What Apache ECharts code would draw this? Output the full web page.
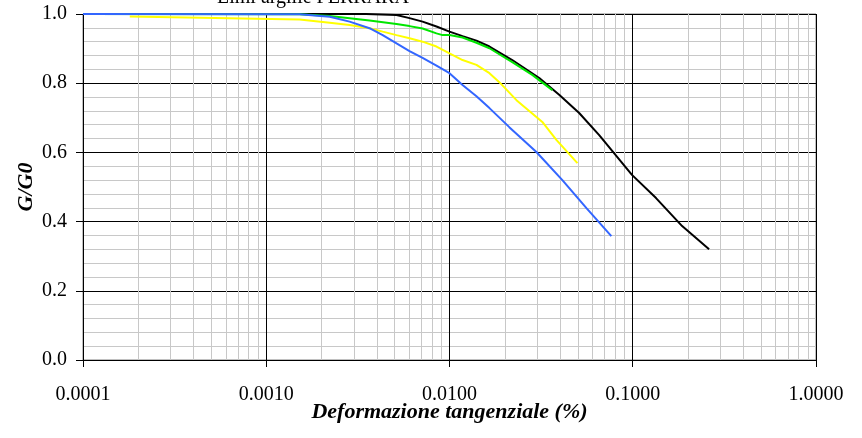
<!DOCTYPE html>
<html>
<head>
<meta charset="utf-8">
<script src="https://cdn.jsdelivr.net/npm/echarts@6/dist/echarts.min.js"></script>
<style>
  html, body { margin: 0; padding: 0; background: #fff; }
  #chart { width: 862px; height: 438px; }
</style>
</head>
<body>
<div id="chart"></div>
<script>
// Shear modulus decay curves G/G0 vs shear strain (%)
const titleText = 'Limi argille FERRARA';
const xAxisName = 'Deformazione tangenziale (%)';
const yAxisName = 'G/G0';

const blackStrain = [0.0001, 0.0035, 0.00514, 0.00605, 0.00713, 0.00849, 0.0100, 0.01178, 0.01403, 0.01652, 0.0220, 0.0309, 0.0398, 0.0510, 0.0656, 0.0990, 0.1340, 0.1860, 0.2610];
const blackRatio  = [1.000, 1.000, 0.997, 0.988, 0.978, 0.964, 0.949, 0.936, 0.923, 0.906, 0.867, 0.815, 0.766, 0.714, 0.650, 0.535, 0.468, 0.387, 0.320];

const greenStrain = [0.0001, 0.00152, 0.00222, 0.00285, 0.00366, 0.00514, 0.00605, 0.00713, 0.00849, 0.00917, 0.0100, 0.01178, 0.01403, 0.01652, 0.0220, 0.0283, 0.0364];
const greenRatio  = [1.000, 0.999, 0.994, 0.988, 0.981, 0.971, 0.965, 0.958, 0.944, 0.939, 0.939, 0.932, 0.917, 0.901, 0.861, 0.824, 0.780];

const yellowStrain = [0.00018, 0.00152, 0.00222, 0.00285, 0.00366, 0.00432, 0.00514, 0.00605, 0.00713, 0.00849, 0.0100, 0.01178, 0.01403, 0.01652, 0.0187, 0.0232, 0.0321, 0.0383, 0.0499];
const yellowRatio  = [0.993, 0.984, 0.975, 0.968, 0.959, 0.949, 0.939, 0.930, 0.920, 0.906, 0.886, 0.867, 0.853, 0.829, 0.803, 0.751, 0.688, 0.636, 0.569];

const blueStrain = [0.0001, 0.00152, 0.00222, 0.00285, 0.00366, 0.00432, 0.00514, 0.00605, 0.00713, 0.00849, 0.0100, 0.01178, 0.01403, 0.01652, 0.0212, 0.0298, 0.0413, 0.0559, 0.0764];
const blueRatio  = [1.000, 0.999, 0.992, 0.978, 0.959, 0.939, 0.915, 0.893, 0.873, 0.851, 0.829, 0.795, 0.762, 0.728, 0.673, 0.601, 0.520, 0.439, 0.358];

const xMin = 0.0001, xMax = 1;
const yMin = 0, yMax = 1;

const pairs = (xs, ys) => xs.map((x, i) => [x, ys[i]]);

// minor vertical grid positions: 2..9 within each decade
const minorX = [];
for (let d = xMin; d < xMax * 0.999; d *= 10) {
  for (let k = 2; k <= 9; k++) minorX.push([d * k, yMin]);
}

const serif = '"Liberation Serif", "DejaVu Serif", serif';

const lineSeries = (data, color) => ({
  type: 'line',
  data,
  showSymbol: false,
  symbol: 'none',
  smooth: false,
  lineStyle: { color, width: 2 },
  z: 3
});

const chart = echarts.init(document.getElementById('chart'));
chart.setOption({
  animation: false,
  backgroundColor: '#fff',
  title: {
    text: titleText,
    left: 217,
    top: -12,
    padding: 0,
    textStyle: { fontFamily: serif, fontSize: 20, fontWeight: 'normal', color: '#000' }
  },
  grid: {
    left: 83, right: 46, top: 14, bottom: 78,
    show: true, borderColor: '#808080', borderWidth: 1, backgroundColor: '#fff'
  },
  xAxis: {
    type: 'log',
    logBase: 10,
    min: xMin,
    max: xMax,
    name: xAxisName,
    nameLocation: 'middle',
    nameGap: 41,
    nameMoveOverlap: false,
    nameTextStyle: { fontFamily: serif, fontSize: 22, fontWeight: 'bold', fontStyle: 'italic', color: '#000' },
    axisLine: { show: true, onZero: false, lineStyle: { color: '#000', width: 1 } },
    axisTick: { show: true, inside: false, length: 7, lineStyle: { color: '#000' } },
    axisLabel: {
      margin: 25,
      fontFamily: serif, fontSize: 20, color: '#000',
      formatter: v => Number(v).toFixed(4)
    },
    splitLine: { show: true, lineStyle: { color: '#000', width: 1 } }
  },
  yAxis: {
    type: 'value',
    min: yMin,
    max: yMax,
    interval: 0.2,
    name: yAxisName,
    nameLocation: 'middle',
    nameRotate: 90,
    nameGap: 46,
    nameMoveOverlap: false,
    nameTextStyle: { fontFamily: serif, fontSize: 22, fontWeight: 'bold', fontStyle: 'italic', color: '#000' },
    axisLine: { show: true, lineStyle: { color: '#000', width: 1 } },
    axisTick: { show: true, inside: false, length: 7, lineStyle: { color: '#000' } },
    axisLabel: {
      margin: 16,
      fontFamily: serif, fontSize: 20, color: '#000',
      formatter: v => Number(v).toFixed(1)
    },
    splitLine: { show: true, lineStyle: { color: '#000', width: 1 } },
    minorTick: { show: false, splitNumber: 5 },
    minorSplitLine: { show: true, lineStyle: { color: '#c8c8c8', width: 1 } }
  },
  series: [
    {
      // light vertical minor grid lines
      type: 'custom',
      silent: true,
      z: 1,
      encode: { x: 0, y: 1 },
      data: minorX,
      clip: true,
      renderItem: (params, api) => {
        const x = api.value(0);
        const p0 = api.coord([x, yMin]);
        const p1 = api.coord([x, yMax]);
        const px = Math.round(p0[0]) + 0.5;
        return {
          type: 'line',
          shape: { x1: px, y1: p0[1], x2: px, y2: p1[1] },
          style: { stroke: '#c8c8c8', lineWidth: 1 }
        };
      }
    },
    lineSeries(pairs(blackStrain, blackRatio), '#000000'),
    lineSeries(pairs(greenStrain, greenRatio), '#00e600'),
    lineSeries(pairs(yellowStrain, yellowRatio), '#ffff00'),
    lineSeries(pairs(blueStrain, blueRatio), '#3366ff')
  ]
});
</script>
</body>
</html>
